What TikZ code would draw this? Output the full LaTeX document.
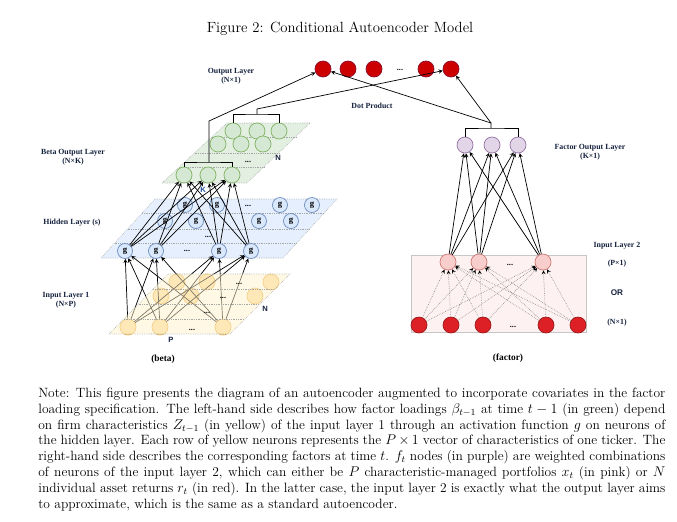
\documentclass[tikz,border=0pt]{standalone}
\usepackage{amsmath,amssymb}
\usepackage{fontspec}
\newfontfamily\tms{Liberation Serif}
\newfontfamily\hlv{Liberation Sans}
\usepackage{tikz}
\definecolor{outred}{HTML}{CC0000}
\definecolor{outredline}{HTML}{8E0A2E}
\definecolor{inred}{HTML}{DD1F26}
\definecolor{inredline}{HTML}{9E1A1A}
\definecolor{pinkfill}{HTML}{F8CECC}
\definecolor{pinkline}{HTML}{D07A76}
\definecolor{purpfill}{HTML}{E1D5E7}
\definecolor{purpline}{HTML}{9673A6}
\definecolor{greenfill}{HTML}{D5E8D4}
\definecolor{greenline}{HTML}{82B366}
\definecolor{bluefill}{HTML}{DAE8FC}
\definecolor{blueline}{HTML}{6C8EBF}
\definecolor{yelfill}{HTML}{FFDFA2}
\definecolor{yelline}{HTML}{E6B04C}
\definecolor{yelplane}{HTML}{FFF2CC}
\definecolor{boxfill}{HTML}{FDF1F1}
\definecolor{lbltext}{HTML}{14213D}
\definecolor{ktext}{HTML}{1F4E9A}
\tikzset{
	neuron/.style={circle,draw,line width=0.6pt,minimum size=0.48cm,inner sep=0pt},
	outn/.style={neuron,fill=outred,draw=outredline},
	inn/.style={neuron,fill=inred,draw=inredline},
	pinkn/.style={neuron,fill=pinkfill,draw=pinkline},
	facn/.style={neuron,fill=purpfill,draw=purpline},
	betan/.style={neuron,fill=greenfill,draw=greenline},
	hidn/.style={neuron,minimum size=0.45cm,fill=bluefill,draw=blueline,font=\tms\bfseries\fontsize{7.5}{8}\selectfont},
	yeln/.style={neuron,fill=yelfill,draw=yelline},
	plane/.style={draw=gray!70,densely dotted,line width=0.5pt},
	dotline/.style={draw=gray,densely dotted,line width=0.5pt,-stealth},
	dots/.style={font=\tms\bfseries\fontsize{7}{8}\selectfont,inner sep=0pt},
	lbl/.style={font=\tms\bfseries\fontsize{6.7}{8}\selectfont,text=lbltext,align=center,inner sep=0pt},
	sanslbl/.style={font=\hlv\bfseries\fontsize{6.5}{8}\selectfont,text=lbltext,inner sep=0pt},
	caplbl/.style={font=\tms\bfseries\fontsize{8}{9}\selectfont,inner sep=0pt}
}

\begin{document}
\begin{tikzpicture}[x=0.03cm,y=-0.03cm,line width=0.6pt]
	\useasboundingbox (0,0) rectangle (677,521);
	\node[font=\fontsize{12.6}{15}\selectfont] (title) at (340,29) {Figure 2: Conditional Autoencoder Model};

	\draw[plane,fill=bluefill!70] (101,258) -- (283,258) -- (337,199) -- (155,199) -- cycle;
	\foreach \yy in {213,229,243} \draw[plane] ({101+(258-\yy)*54/59},\yy) -- ++(182,0);
	\foreach \x/\n in {185/1,217/2,280/3,312/4} \node[hidn] (hb\n) at (\x,205) {g};
	\foreach \x/\n in {165/1,196/2,259/3,291/4} \node[hidn] (hm\n) at (\x,221) {g};
	\foreach \x/\n in {125/1,156/2,219/3,251/4} \node[hidn] (h\n) at (\x,251) {g};
	\node[dots] (hdb) at (248,206) {...};
	\node[dots] (hdm) at (208,237) {...};
	\node[dots] (hdf) at (187,251) {...};

	\draw[plane,fill=greenfill!70] (162,183) -- (247,183) -- (310,123) -- (227,123) -- cycle;
	\foreach \yy in {137,153,167} \draw[plane] ({162+(183-\yy)*65/60},\yy) -- ++(85,0);
	\foreach \x/\n in {233/1,257/2,279/3} \node[betan] (bb\n) at (\x,131) {};
	\foreach \x/\n in {218/1,241/2,263/3} \node[betan] (bm\n) at (\x,144) {};
	\foreach \x/\n in {184/1,208/2,232/3} \node[betan] (bf\n) at (\x,175) {};
	\node[dots] (bdots) at (248,162) {...};
	\node[sanslbl] (bn) at (278,158) {N};
	\node[sanslbl,text=ktext] (bk) at (203,190) {K};

	\foreach \x/\n in {177/1,207/2,271/3} \node[yeln] (yb\n) at (\x,282) {};
	\foreach \x/\n in {161/1,191/2,255/3} \node[yeln] (ym\n) at (\x,296) {};
	\foreach \x/\n in {128/1,160/2,223/3} \node[yeln] (y\n) at (\x,327) {};

	\foreach \i in {1,...,4}
		\foreach \j in {1,2,3}
			\path[-stealth] (h\i) edge (bf\j);
	\foreach \i in {1,2,3}
		\foreach \j in {1,...,4}
			\path[-stealth] (y\i) edge (h\j);

	\draw[plane,fill=yelplane,fill opacity=0.5] (109,334) -- (230,334) -- (290,274) -- (168,274) -- cycle;
	\foreach \yy in {289,304,319} \draw[plane] ({109+(334-\yy)*59/60},\yy) -- ++(121,0);
	\node[dots] (ydb) at (239,284) {...};
	\node[dots] (ydm) at (223,298) {...};
	\node[dots] (ydc) at (207,313) {...};
	\node[dots] (ydf) at (192,330) {...};
	\node[sanslbl] (yn) at (265,309) {N};
	\node[sanslbl] (yp) at (171,340) {P};

	\foreach \x/\n in {323/1,348/2,374/3,426/4,451/5} \node[outn] (o\n) at (\x,69) {};
	\node[dots] (odots) at (400,70) {...};

	\draw[fill=boxfill,draw=gray!45] (411,255) rectangle (586,332);
	\foreach \x/\n in {448/1,479/2,543/3} \node[pinkn] (p\n) at (\x,262) {};
	\node[dots] (pdots) at (510,265) {...};
	\foreach \x/\n in {419/1,451/2,483/3,546/4,578/5} \node[inn] (r\n) at (\x,325) {};
	\node[dots] (rdots) at (513,327) {...};
	\foreach \x/\n in {465/1,492/2,518/3} \node[facn] (f\n) at (\x,145) {};

	\foreach \i in {1,...,5}
		\foreach \j in {1,2,3}
			\path[dotline] (r\i) edge (p\j);
	\foreach \i in {1,2,3}
		\foreach \j in {1,2,3}
			\path[-stealth] (p\i) edge (f\j);

	\coordinate (bstem) at (209,162);
	\coordinate (bknee) at (209,121);
	\coordinate (tstem) at (257,114);
	\coordinate (tknee) at (257,109);
	\coordinate (fstem) at (491,128);
	\coordinate (fknee) at (491,123);
	\draw (bf1.north) |- (bstem) -| (bf3.north);
	\draw (bb1.north) |- (tstem) -| (bb3.north);
	\draw (f1.north) |- (fstem) -| (f3.north);
	\draw[-stealth] (bstem) -- (bknee) -- (o1);
	\draw[-stealth] (tstem) -- (tknee) -- (o5);
	\draw[-stealth] (fstem) -- (fknee) -- (o1);
	\draw[-stealth] (fknee) -- (o5);

	\node[lbl] (outlbl) at (231,76) {Output Layer\\(N×1)};
	\node[lbl] (dotlbl) at (372,106) {Dot Product};
	\node[lbl] (betalbl) at (73,157) {Beta Output Layer\\(N×K)};
	\node[lbl] (hidlbl) at (72,223) {Hidden Layer (s)};
	\node[lbl] (in1lbl) at (66,300) {Input Layer 1\\(N×P)};
	\node[lbl] (faclbl) at (590,152) {Factor Output Layer\\(K×1)};
	\node[lbl] (in2lbl) at (617,246) {Input Layer 2};
	\node[lbl] (plbl) at (617,264) {(P×1)};
	\node[sanslbl,font=\hlv\bfseries\fontsize{7}{8}\selectfont] (orlbl) at (617,293) {OR};
	\node[lbl] (nlbl) at (617,323) {(N×1)};
	\node[caplbl] (betacap) at (163,359) {(beta)};
	\node[caplbl] (faccap) at (508,358) {(factor)};

	\node[anchor=north west,text width=18.81cm,align=justify,inner sep=0pt,font=\fontsize{11.5}{13.52}\selectfont] (note) at (38,387.5) {Note: This figure presents the diagram of an autoencoder augmented to incorporate covariates in the factor\linebreak loading specification. The left-hand side describes how factor loadings $\beta_{t-1}$ at time $t-1$ (in green) depend\linebreak on firm characteristics $Z_{t-1}$ (in yellow) of the input layer 1 through an activation function $g$ on neurons of\linebreak the hidden layer. Each row of yellow neurons represents the $P\times 1$ vector of characteristics of one ticker. The\linebreak right-hand side describes the corresponding factors at time $t$. $f_t$ nodes (in purple) are weighted combinations\linebreak of neurons of the input layer 2, which can either be $P$ characteristic-managed portfolios $x_t$ (in pink) or $N$\linebreak individual asset returns $r_t$ (in red). In the latter case, the input layer 2 is exactly what the output layer aims\linebreak to approximate, which is the same as a standard autoencoder.};
\end{tikzpicture}
\end{document}
